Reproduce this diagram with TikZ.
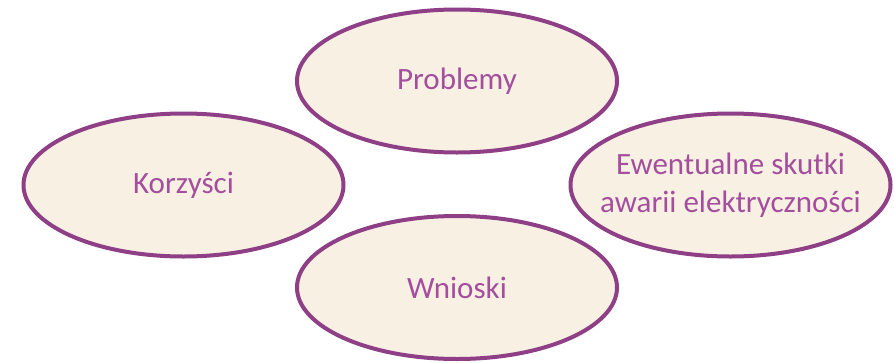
\documentclass[tikz,border=0pt]{standalone}
\usepackage{fontspec}
\setmainfont{Carlito}
\usetikzlibrary{shapes.geometric}
\definecolor{rim}{HTML}{8E3F86}
\definecolor{cream}{HTML}{F8F0E3}
\definecolor{ink}{HTML}{A44E9E}
\tikzset{topic/.style={ellipse, draw=rim, fill=cream, line width=4pt,
    minimum width=320pt, minimum height=143pt, inner sep=0pt,
    text=ink, align=center, font=\fontsize{31}{38}\selectfont}}

\begin{document}
\begin{tikzpicture}[x=1pt, y=-1pt]
        \useasboundingbox (0, 0) rectangle (894, 362);
        \node[topic] (prob) at (457, 81) {Problemy};
        \node[topic] (korz) at (183.5, 185) {Korzyści};
        \node[topic, inner xsep=-40pt] (skut) at (730.5, 185)
          {Ewentualne skutki\\awarii elektryczności};
        \node[topic] (wnio) at (457, 287.5) {Wnioski};
      \end{tikzpicture}
\end{document}
